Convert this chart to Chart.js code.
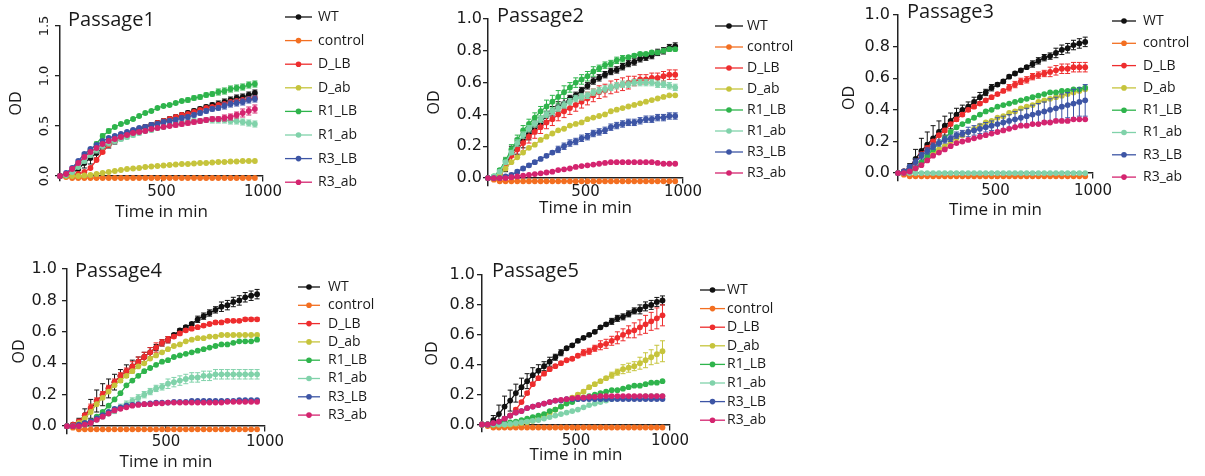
<!DOCTYPE html>
<html lang="en">
<head>
<meta charset="UTF-8">
<title>Growth curves per passage</title>
<script src="https://cdn.jsdelivr.net/npm/chart.js"></script>
<style>
  body { margin: 0; background: #fff; width: 1205px; height: 476px; position: relative; overflow: hidden; }
  canvas { position: absolute; }
</style>
</head>
<body>
<script>
// sampling times (min)
const times = [0, 30, 60, 90, 120, 150, 180, 210, 240, 270, 300,
  330, 360, 390, 420, 450, 480, 510, 540, 570, 600, 630,
  660, 690, 720, 750, 780, 810, 840, 870, 900, 930, 960];

const seriesNames = ['WT', 'control', 'D_LB', 'D_ab', 'R1_LB', 'R1_ab', 'R3_LB', 'R3_ab'];
const seriesColors = ['#111111', '#f36f21', '#ee2d2e', '#c6c43c', '#2fb44c', '#80d2aa', '#3d55a5', '#d4246f'];

const xTicks = [500, 1000];
const yTicksP1 = [0, 0.5, 1.0, 1.5];
const yTicks = [0, 0.2, 0.4, 0.6, 0.8, 1.0];

// medium-only control, same in every passage
const control = [0, -0.01, -0.02, -0.02, -0.02, -0.02, -0.02, -0.02, -0.02, -0.02, -0.02,
  -0.02, -0.02, -0.02, -0.02, -0.02, -0.02, -0.02, -0.02, -0.02, -0.02, -0.02,
  -0.02, -0.02, -0.02, -0.02, -0.02, -0.02, -0.02, -0.02, -0.02, -0.02, -0.02];

// Passage 1
const p1WT = [0, 0, 0.03, 0.07, 0.13, 0.18, 0.23, 0.28, 0.32, 0.35, 0.38,
  0.41, 0.44, 0.46, 0.49, 0.51, 0.53, 0.55, 0.57, 0.59, 0.61, 0.63,
  0.65, 0.67, 0.69, 0.71, 0.72, 0.74, 0.76, 0.78, 0.79, 0.81, 0.83];
const p1DLB = [0, 0, 0.01, 0.02, 0.04, 0.08, 0.16, 0.24, 0.31, 0.35, 0.39,
  0.42, 0.45, 0.47, 0.49, 0.51, 0.53, 0.55, 0.57, 0.59, 0.61, 0.62,
  0.64, 0.66, 0.68, 0.69, 0.71, 0.72, 0.74, 0.75, 0.76, 0.77, 0.78];
const p1Dab = [0, 0, 0, 0, 0.005, 0.01, 0.02, 0.03, 0.04, 0.05, 0.06,
  0.07, 0.075, 0.08, 0.09, 0.095, 0.10, 0.105, 0.11, 0.115, 0.12, 0.12,
  0.125, 0.13, 0.13, 0.135, 0.14, 0.14, 0.145, 0.145, 0.15, 0.15, 0.15];
const p1R1LB = [0, 0.01, 0.05, 0.12, 0.19, 0.26, 0.32, 0.40, 0.45, 0.49, 0.52,
  0.54, 0.57, 0.60, 0.63, 0.65, 0.68, 0.70, 0.71, 0.73, 0.75, 0.76,
  0.78, 0.79, 0.81, 0.82, 0.84, 0.85, 0.87, 0.88, 0.89, 0.91, 0.92];
const p1R1ab = [0, 0.01, 0.04, 0.09, 0.15, 0.21, 0.26, 0.30, 0.33, 0.35, 0.37,
  0.39, 0.41, 0.43, 0.45, 0.46, 0.48, 0.49, 0.51, 0.52, 0.53, 0.54,
  0.55, 0.55, 0.56, 0.56, 0.56, 0.56, 0.55, 0.55, 0.54, 0.53, 0.52];
const p1R3LB = [0, 0.03, 0.08, 0.15, 0.22, 0.27, 0.31, 0.35, 0.38, 0.40, 0.42,
  0.44, 0.46, 0.48, 0.49, 0.51, 0.52, 0.54, 0.55, 0.56, 0.58, 0.59,
  0.61, 0.63, 0.65, 0.67, 0.68, 0.70, 0.72, 0.73, 0.74, 0.76, 0.77];
const p1R3ab = [0, 0.02, 0.07, 0.13, 0.19, 0.24, 0.28, 0.32, 0.35, 0.37, 0.39,
  0.41, 0.43, 0.44, 0.45, 0.47, 0.48, 0.49, 0.50, 0.51, 0.52, 0.53,
  0.54, 0.55, 0.56, 0.57, 0.57, 0.58, 0.59, 0.61, 0.63, 0.65, 0.67];
const p1ErrWT = [0, 0, 0.02, 0.04, 0.05, 0.06, 0.05, 0.05, 0.04, 0.03, 0.02,
  0.02, 0.02, 0.02, 0.02, 0.02, 0.02, 0.02, 0.02, 0.02, 0.02, 0.02,
  0.02, 0.02, 0.02, 0.02, 0.03, 0.03, 0.03, 0.03, 0.03, 0.03, 0.03];
const p1ErrR1LB = [0, 0, 0.01, 0.01, 0.02, 0.02, 0.02, 0.02, 0.02, 0.01, 0.01,
  0.01, 0.01, 0.01, 0.01, 0.01, 0.01, 0.01, 0.01, 0.01, 0.01, 0.02,
  0.02, 0.02, 0.02, 0.02, 0.03, 0.03, 0.03, 0.03, 0.03, 0.03, 0.03];
const p1ErrR1ab = [0, 0, 0.01, 0.01, 0.02, 0.02, 0.03, 0.03, 0.03, 0.02, 0.02,
  0.02, 0.02, 0.02, 0.02, 0.02, 0.02, 0.02, 0.02, 0.02, 0.02, 0.02,
  0.02, 0.02, 0.02, 0.03, 0.03, 0.03, 0.03, 0.03, 0.03, 0.03, 0.03];
const p1ErrR3LB = [0, 0, 0.01, 0.01, 0.01, 0.01, 0.01, 0.01, 0.01, 0.01, 0.01,
  0.01, 0.01, 0.01, 0.02, 0.02, 0.02, 0.02, 0.02, 0.02, 0.02, 0.02,
  0.02, 0.02, 0.02, 0.02, 0.02, 0.03, 0.03, 0.03, 0.03, 0.03, 0.03];
const p1ErrR3ab = [0, 0, 0.01, 0.01, 0.01, 0.01, 0.01, 0.01, 0.01, 0.01, 0.01,
  0.01, 0.01, 0.01, 0.01, 0.01, 0.01, 0.01, 0.01, 0.02, 0.02, 0.02,
  0.02, 0.02, 0.02, 0.02, 0.02, 0.03, 0.03, 0.03, 0.04, 0.04, 0.04];

// Passage 2
const p2WT = [0, 0, 0.02, 0.08, 0.15, 0.20, 0.24, 0.28, 0.32, 0.35, 0.39,
  0.42, 0.45, 0.47, 0.50, 0.52, 0.55, 0.58, 0.61, 0.63, 0.65, 0.67,
  0.68, 0.70, 0.72, 0.73, 0.75, 0.76, 0.77, 0.79, 0.80, 0.82, 0.83];
const p2DLB = [0, 0, 0.03, 0.08, 0.14, 0.18, 0.22, 0.26, 0.29, 0.32, 0.35,
  0.37, 0.40, 0.42, 0.44, 0.46, 0.48, 0.50, 0.52, 0.54, 0.55, 0.57,
  0.58, 0.59, 0.60, 0.61, 0.62, 0.62, 0.63, 0.63, 0.64, 0.65, 0.65];
const p2Dab = [0, 0, 0.02, 0.06, 0.10, 0.13, 0.16, 0.19, 0.21, 0.24, 0.26,
  0.28, 0.30, 0.31, 0.33, 0.34, 0.35, 0.37, 0.38, 0.39, 0.40, 0.42,
  0.43, 0.44, 0.45, 0.46, 0.47, 0.48, 0.49, 0.50, 0.51, 0.52, 0.52];
const p2R1LB = [0, 0.01, 0.05, 0.11, 0.18, 0.24, 0.30, 0.34, 0.38, 0.42, 0.45,
  0.48, 0.51, 0.54, 0.57, 0.60, 0.62, 0.64, 0.67, 0.69, 0.71, 0.72,
  0.74, 0.75, 0.76, 0.77, 0.78, 0.78, 0.79, 0.79, 0.80, 0.81, 0.81];
const p2R1ab = [0, 0.01, 0.04, 0.10, 0.16, 0.22, 0.27, 0.31, 0.34, 0.37, 0.40,
  0.42, 0.44, 0.46, 0.48, 0.50, 0.51, 0.52, 0.54, 0.55, 0.56, 0.57,
  0.58, 0.59, 0.59, 0.60, 0.60, 0.60, 0.60, 0.59, 0.59, 0.58, 0.57];
const p2R3LB = [0, 0, 0, 0.01, 0.02, 0.04, 0.06, 0.08, 0.10, 0.12, 0.14,
  0.16, 0.18, 0.20, 0.22, 0.23, 0.25, 0.26, 0.28, 0.29, 0.30, 0.32,
  0.33, 0.34, 0.35, 0.35, 0.36, 0.37, 0.37, 0.38, 0.38, 0.39, 0.39];
const p2R3ab = [0, 0, 0, 0, 0.005, 0.01, 0.015, 0.02, 0.025, 0.03, 0.035,
  0.04, 0.05, 0.055, 0.06, 0.07, 0.075, 0.08, 0.085, 0.09, 0.095, 0.10,
  0.10, 0.10, 0.10, 0.10, 0.10, 0.10, 0.10, 0.095, 0.09, 0.09, 0.09];
const p2ErrWT = [0, 0, 0.02, 0.04, 0.05, 0.05, 0.05, 0.04, 0.04, 0.03, 0.03,
  0.03, 0.03, 0.03, 0.02, 0.02, 0.02, 0.02, 0.02, 0.02, 0.02, 0.02,
  0.02, 0.02, 0.02, 0.02, 0.02, 0.02, 0.02, 0.02, 0.02, 0.02, 0.02];
const p2ErrDLB = [0, 0, 0.02, 0.03, 0.04, 0.05, 0.05, 0.04, 0.04, 0.04, 0.04,
  0.04, 0.04, 0.04, 0.04, 0.04, 0.04, 0.04, 0.04, 0.04, 0.04, 0.04,
  0.04, 0.04, 0.04, 0.03, 0.03, 0.03, 0.03, 0.03, 0.03, 0.03, 0.03];
const p2ErrR1LB = [0, 0, 0.01, 0.02, 0.03, 0.03, 0.03, 0.03, 0.03, 0.03, 0.04,
  0.04, 0.04, 0.04, 0.03, 0.03, 0.03, 0.03, 0.03, 0.02, 0.02, 0.02,
  0.02, 0.02, 0.01, 0.01, 0.01, 0.01, 0.01, 0.01, 0.01, 0.01, 0.01];
const p2ErrR1ab = [0, 0, 0.01, 0.01, 0.01, 0.02, 0.02, 0.02, 0.02, 0.02, 0.02,
  0.02, 0.02, 0.02, 0.02, 0.02, 0.02, 0.02, 0.02, 0.02, 0.02, 0.02,
  0.02, 0.02, 0.02, 0.02, 0.02, 0.02, 0.02, 0.02, 0.02, 0.02, 0.02];
const p2ErrR3LB = [0, 0, 0, 0, 0.01, 0.01, 0.01, 0.01, 0.01, 0.01, 0.01,
  0.01, 0.02, 0.02, 0.02, 0.02, 0.02, 0.02, 0.02, 0.02, 0.02, 0.02,
  0.02, 0.02, 0.02, 0.02, 0.02, 0.02, 0.02, 0.02, 0.02, 0.02, 0.02];

// Passage 3
const p3WT = [0, 0.01, 0.04, 0.09, 0.14, 0.18, 0.22, 0.26, 0.30, 0.33, 0.37,
  0.40, 0.42, 0.45, 0.48, 0.51, 0.54, 0.56, 0.58, 0.61, 0.63, 0.65,
  0.67, 0.69, 0.71, 0.73, 0.74, 0.76, 0.78, 0.79, 0.81, 0.82, 0.83];
const p3DLB = [0, 0.01, 0.03, 0.07, 0.12, 0.16, 0.20, 0.24, 0.27, 0.31, 0.34,
  0.37, 0.40, 0.42, 0.44, 0.46, 0.48, 0.50, 0.52, 0.54, 0.56, 0.58,
  0.59, 0.61, 0.62, 0.63, 0.64, 0.65, 0.66, 0.66, 0.67, 0.67, 0.67];
const p3Dab = [0, 0, 0.01, 0.03, 0.06, 0.09, 0.12, 0.15, 0.17, 0.20, 0.22,
  0.24, 0.26, 0.28, 0.30, 0.32, 0.33, 0.35, 0.36, 0.38, 0.39, 0.41,
  0.42, 0.43, 0.45, 0.46, 0.47, 0.48, 0.49, 0.50, 0.51, 0.52, 0.53];
const p3R1LB = [0, 0, 0.01, 0.03, 0.07, 0.11, 0.15, 0.19, 0.22, 0.26, 0.29,
  0.31, 0.33, 0.35, 0.37, 0.39, 0.40, 0.42, 0.43, 0.44, 0.45, 0.46,
  0.47, 0.48, 0.49, 0.50, 0.51, 0.51, 0.52, 0.52, 0.53, 0.53, 0.54];
const p3R1ab = [0, 0, 0, 0, 0, 0, 0, 0, 0, 0, 0,
  0, 0, 0, 0, 0, 0, 0, 0, 0, 0, 0,
  0, 0, 0, 0, 0, 0, 0, 0, 0, 0, 0];
const p3R3LB = [0, 0.01, 0.04, 0.07, 0.11, 0.14, 0.17, 0.19, 0.21, 0.22, 0.24,
  0.25, 0.26, 0.27, 0.28, 0.29, 0.30, 0.31, 0.32, 0.33, 0.34, 0.35,
  0.36, 0.37, 0.38, 0.39, 0.40, 0.41, 0.42, 0.43, 0.44, 0.45, 0.46];
const p3R3ab = [0, 0, 0.01, 0.03, 0.05, 0.08, 0.11, 0.13, 0.15, 0.17, 0.19,
  0.20, 0.21, 0.22, 0.23, 0.24, 0.25, 0.26, 0.27, 0.28, 0.29, 0.30,
  0.30, 0.31, 0.31, 0.32, 0.32, 0.33, 0.33, 0.33, 0.34, 0.34, 0.34];
const p3ErrWT = [0, 0, 0.02, 0.06, 0.08, 0.08, 0.08, 0.07, 0.06, 0.05, 0.04,
  0.03, 0.03, 0.03, 0.03, 0.02, 0.02, 0.01, 0.01, 0.01, 0.01, 0.01,
  0.01, 0.02, 0.02, 0.02, 0.02, 0.03, 0.03, 0.03, 0.03, 0.03, 0.03];
const p3ErrDLB = [0, 0, 0.01, 0.01, 0.01, 0.01, 0.01, 0.01, 0.01, 0.01, 0.01,
  0.01, 0.01, 0.01, 0.01, 0.01, 0.01, 0.01, 0.01, 0.02, 0.02, 0.02,
  0.02, 0.02, 0.02, 0.02, 0.03, 0.03, 0.03, 0.03, 0.03, 0.03, 0.03];
const p3ErrR3LB = [0, 0, 0.01, 0.02, 0.02, 0.02, 0.02, 0.02, 0.02, 0.02, 0.02,
  0.02, 0.03, 0.03, 0.03, 0.03, 0.03, 0.04, 0.04, 0.04, 0.05, 0.05,
  0.05, 0.06, 0.06, 0.06, 0.07, 0.07, 0.08, 0.08, 0.09, 0.09, 0.10];

// Passage 4
const p4WT = [0, 0.01, 0.03, 0.07, 0.11, 0.16, 0.20, 0.24, 0.28, 0.32, 0.35,
  0.38, 0.41, 0.44, 0.47, 0.50, 0.53, 0.55, 0.58, 0.61, 0.63, 0.65,
  0.68, 0.70, 0.72, 0.74, 0.76, 0.77, 0.79, 0.80, 0.82, 0.83, 0.84];
const p4DLB = [0, 0.01, 0.03, 0.07, 0.12, 0.16, 0.20, 0.24, 0.28, 0.32, 0.35,
  0.38, 0.41, 0.44, 0.47, 0.50, 0.53, 0.55, 0.57, 0.59, 0.61, 0.62,
  0.63, 0.64, 0.65, 0.66, 0.66, 0.67, 0.67, 0.67, 0.68, 0.68, 0.68];
const p4Dab = [0, 0, 0.02, 0.05, 0.09, 0.14, 0.18, 0.22, 0.26, 0.29, 0.32,
  0.35, 0.38, 0.40, 0.43, 0.45, 0.47, 0.49, 0.51, 0.52, 0.54, 0.55,
  0.56, 0.56, 0.57, 0.57, 0.58, 0.58, 0.58, 0.58, 0.58, 0.58, 0.58];
const p4R1LB = [0, 0, 0, 0.01, 0.03, 0.06, 0.09, 0.13, 0.17, 0.21, 0.26,
  0.29, 0.32, 0.35, 0.37, 0.39, 0.41, 0.42, 0.44, 0.45, 0.46, 0.47,
  0.48, 0.49, 0.50, 0.51, 0.52, 0.52, 0.53, 0.54, 0.54, 0.54, 0.55];
const p4R1ab = [0, 0, 0, 0.01, 0.02, 0.04, 0.06, 0.08, 0.10, 0.12, 0.14,
  0.16, 0.18, 0.20, 0.22, 0.24, 0.25, 0.27, 0.28, 0.29, 0.30, 0.31,
  0.31, 0.32, 0.32, 0.33, 0.33, 0.33, 0.33, 0.33, 0.33, 0.33, 0.33];
const p4R3LB = [0, 0, 0.01, 0.02, 0.03, 0.05, 0.07, 0.09, 0.11, 0.12, 0.13,
  0.135, 0.14, 0.14, 0.145, 0.15, 0.15, 0.15, 0.155, 0.155, 0.155, 0.16,
  0.16, 0.16, 0.16, 0.16, 0.16, 0.16, 0.16, 0.165, 0.165, 0.165, 0.165];
const p4R3ab = [0, 0, 0, 0.01, 0.02, 0.04, 0.06, 0.08, 0.10, 0.11, 0.12,
  0.13, 0.135, 0.14, 0.14, 0.145, 0.145, 0.15, 0.15, 0.15, 0.15, 0.15,
  0.15, 0.15, 0.15, 0.15, 0.15, 0.155, 0.155, 0.155, 0.155, 0.155, 0.155];
const p4ErrWT = [0, 0, 0.02, 0.04, 0.06, 0.07, 0.07, 0.06, 0.05, 0.04, 0.04,
  0.04, 0.03, 0.03, 0.03, 0.02, 0.02, 0.02, 0.01, 0.01, 0.01, 0.01,
  0.02, 0.02, 0.02, 0.02, 0.03, 0.03, 0.03, 0.03, 0.03, 0.03, 0.03];
const p4ErrDLB = [0, 0, 0.01, 0.01, 0.02, 0.02, 0.02, 0.02, 0.02, 0.02, 0.02,
  0.03, 0.03, 0.03, 0.03, 0.03, 0.02, 0.02, 0.01, 0.01, 0.01, 0.01,
  0.01, 0.01, 0.01, 0.01, 0.01, 0.01, 0.01, 0.01, 0.01, 0.01, 0.01];
const p4ErrR1ab = [0, 0, 0, 0, 0.01, 0.01, 0.01, 0.01, 0.02, 0.02, 0.02,
  0.02, 0.02, 0.02, 0.02, 0.02, 0.02, 0.03, 0.03, 0.03, 0.03, 0.03,
  0.03, 0.03, 0.03, 0.03, 0.03, 0.03, 0.03, 0.03, 0.03, 0.03, 0.03];

// Passage 5
const p5WT = [0, 0, 0.03, 0.07, 0.12, 0.16, 0.21, 0.25, 0.29, 0.33, 0.36,
  0.39, 0.42, 0.45, 0.48, 0.51, 0.53, 0.56, 0.58, 0.60, 0.62, 0.65,
  0.67, 0.69, 0.71, 0.72, 0.74, 0.76, 0.77, 0.79, 0.80, 0.82, 0.83];
const p5DLB = [0, 0, 0.01, 0.01, 0.03, 0.06, 0.10, 0.15, 0.21, 0.27, 0.31,
  0.34, 0.37, 0.39, 0.41, 0.43, 0.44, 0.46, 0.48, 0.49, 0.51, 0.53,
  0.54, 0.56, 0.58, 0.60, 0.62, 0.63, 0.65, 0.67, 0.69, 0.71, 0.73];
const p5Dab = [0, 0, 0, 0, 0, 0, 0.005, 0.01, 0.015, 0.025, 0.04,
  0.06, 0.08, 0.10, 0.12, 0.15, 0.18, 0.20, 0.22, 0.25, 0.27, 0.29,
  0.31, 0.33, 0.35, 0.37, 0.38, 0.39, 0.41, 0.43, 0.45, 0.47, 0.49];
const p5R1LB = [0, 0, 0, 0.005, 0.01, 0.015, 0.02, 0.03, 0.04, 0.05, 0.06,
  0.07, 0.09, 0.10, 0.12, 0.14, 0.15, 0.17, 0.18, 0.19, 0.20, 0.21,
  0.22, 0.23, 0.23, 0.24, 0.25, 0.26, 0.26, 0.27, 0.28, 0.28, 0.29];
const p5R1ab = [0, 0, 0, 0, 0, 0.005, 0.01, 0.015, 0.02, 0.025, 0.03,
  0.04, 0.05, 0.06, 0.07, 0.08, 0.09, 0.10, 0.115, 0.13, 0.14, 0.15,
  0.16, 0.17, 0.175, 0.18, 0.18, 0.185, 0.185, 0.19, 0.19, 0.19, 0.19];
const p5R3LB = [0, 0, 0.01, 0.02, 0.04, 0.06, 0.08, 0.09, 0.11, 0.12, 0.13,
  0.14, 0.15, 0.16, 0.16, 0.17, 0.17, 0.17, 0.17, 0.17, 0.17, 0.17,
  0.17, 0.17, 0.17, 0.17, 0.17, 0.17, 0.17, 0.17, 0.17, 0.17, 0.17];
const p5R3ab = [0, 0, 0.01, 0.02, 0.04, 0.06, 0.08, 0.09, 0.11, 0.12, 0.13,
  0.14, 0.15, 0.16, 0.165, 0.17, 0.175, 0.18, 0.18, 0.185, 0.185, 0.19,
  0.19, 0.19, 0.19, 0.19, 0.19, 0.19, 0.19, 0.19, 0.19, 0.19, 0.19];
const p5ErrWT = [0, 0.01, 0.03, 0.06, 0.07, 0.07, 0.06, 0.06, 0.05, 0.05, 0.04,
  0.03, 0.03, 0.02, 0.02, 0.01, 0.01, 0.01, 0.01, 0.01, 0.01, 0.01,
  0.01, 0.02, 0.02, 0.02, 0.02, 0.02, 0.03, 0.03, 0.03, 0.03, 0.03];
const p5ErrDLB = [0, 0, 0, 0, 0.01, 0.01, 0.01, 0.01, 0.01, 0.01, 0.01,
  0.01, 0.01, 0.01, 0.01, 0.01, 0.01, 0.01, 0.02, 0.02, 0.02, 0.03,
  0.03, 0.03, 0.04, 0.04, 0.04, 0.05, 0.05, 0.06, 0.06, 0.07, 0.07];
const p5ErrDab = [0, 0, 0, 0, 0, 0, 0, 0, 0, 0, 0,
  0, 0.01, 0.01, 0.01, 0.01, 0.01, 0.01, 0.01, 0.01, 0.01, 0.01,
  0.01, 0.02, 0.02, 0.03, 0.03, 0.03, 0.04, 0.05, 0.05, 0.06, 0.07];

// where each panel sits on the page
const frames = {
  p1: {left: 3, top: 11, width: 377, height: 217, axisW: 57, padTop: 15, padRight: 117, padBottom: 47,
       yFont: 13, yRot: 90, yPad: 0, xPad: 3.5, xTitlePad: 0.5,
       titleDx: 8, titleDy: -6, legX: 22, legLen: 27, legText: 55, legY: -9, legGap: 23.6},
  p2: {left: 421, top: 4, width: 384, height: 221, axisW: 67, padTop: 15, padRight: 122, padBottom: 39,
       yFont: 16, yRot: 0, yPad: 1, xPad: 1.5, xTitlePad: -1.5,
       titleDx: 9, titleDy: -3, legX: 32, legLen: 28, legText: 64, legY: 7, legGap: 21},
  p3: {left: 836, top: 0, width: 369, height: 225, axisW: 62, padTop: 15, padRight: 112, padBottom: 44,
       yFont: 16, yRot: 0, yPad: 3, xPad: 5.5, xTitlePad: -2.5,
       titleDx: 9, titleDy: -2.5, legX: 19, legLen: 24, legText: 50, legY: 6, legGap: 22.3},
  p4: {left: 6, top: 254, width: 384, height: 222, axisW: 61, padTop: 15, padRight: 125, padBottom: 42,
       yFont: 16, yRot: 0, yPad: 5, xPad: 3.5, xTitlePad: 0.5,
       titleDx: 8, titleDy: 2, legX: 33, legLen: 22, legText: 63, legY: 18, legGap: 18.3},
  p5: {left: 419, top: 260, width: 371, height: 216, axisW: 63, padTop: 15, padRight: 120, padBottom: 44,
       yFont: 16, yRot: 0, yPad: 2, xPad: 4.5, xTitlePad: -6.5,
       titleDx: 10, titleDy: -4, legX: 30, legLen: 25, legText: 57, legY: 15, legGap: 18.6}
};

const passages = [
  {id: 'p1', title: 'Passage1', yMax: 1.5, yTicks: yTicksP1,
   values: [p1WT, control, p1DLB, p1Dab, p1R1LB, p1R1ab, p1R3LB, p1R3ab],
   errs: [p1ErrWT, null, null, null, p1ErrR1LB, p1ErrR1ab, p1ErrR3LB, p1ErrR3ab]},
  {id: 'p2', title: 'Passage2', yMax: 1.0, yTicks: yTicks,
   values: [p2WT, control, p2DLB, p2Dab, p2R1LB, p2R1ab, p2R3LB, p2R3ab],
   errs: [p2ErrWT, null, p2ErrDLB, null, p2ErrR1LB, p2ErrR1ab, p2ErrR3LB, null]},
  {id: 'p3', title: 'Passage3', yMax: 1.0, yTicks: yTicks,
   values: [p3WT, control, p3DLB, p3Dab, p3R1LB, p3R1ab, p3R3LB, p3R3ab],
   errs: [p3ErrWT, null, p3ErrDLB, null, null, null, p3ErrR3LB, null]},
  {id: 'p4', title: 'Passage4', yMax: 1.0, yTicks: yTicks,
   values: [p4WT, control, p4DLB, p4Dab, p4R1LB, p4R1ab, p4R3LB, p4R3ab],
   errs: [p4ErrWT, null, p4ErrDLB, null, null, p4ErrR1ab, null, null]},
  {id: 'p5', title: 'Passage5', yMax: 1.0, yTicks: yTicks,
   values: [p5WT, control, p5DLB, p5Dab, p5R1LB, p5R1ab, p5R3LB, p5R3ab],
   errs: [p5ErrWT, null, p5ErrDLB, p5ErrDab, null, null, null, null]}
];

const axisColor = '#222';
const textColor = '#1a1a1a';

// vertical error bars with small caps, drawn right after their own series
const errorBars = {
  id: 'errorBars',
  afterDatasetDraw(chart, args) {
    const ds = chart.data.datasets[args.index];
    if (!ds.errs) return;
    const {ctx, scales: {x, y}} = chart;
    ctx.save();
    ctx.strokeStyle = ds.borderColor;
    ctx.lineWidth = 1;
    ds.data.forEach((p, j) => {
      const e = ds.errs[j];
      if (!e) return;
      const px = x.getPixelForValue(p.x);
      const hi = y.getPixelForValue(p.y + e);
      const lo = y.getPixelForValue(p.y - e);
      ctx.beginPath();
      ctx.moveTo(px, hi); ctx.lineTo(px, lo);
      ctx.moveTo(px - 2.5, hi); ctx.lineTo(px + 2.5, hi);
      ctx.moveTo(px - 2.5, lo); ctx.lineTo(px + 2.5, lo);
      ctx.stroke();
    });
    ctx.restore();
  }
};

// panel title and the line+dot legend on the right
const decor = {
  id: 'decor',
  afterDraw(chart, args, o) {
    const {ctx, chartArea: a} = chart;
    ctx.save();
    ctx.textBaseline = 'middle';
    ctx.textAlign = 'left';
    ctx.fillStyle = textColor;
    ctx.font = '20px "Open Sans"';
    ctx.fillText(o.title, a.left + o.titleDx, a.top + o.titleDy);
    ctx.font = '14px "Open Sans"';
    chart.data.datasets.forEach((ds, i) => {
      const yy = a.top + o.legY + i * o.legGap;
      const x0 = a.right + o.legX;
      ctx.strokeStyle = ds.borderColor;
      ctx.lineWidth = 1.3;
      ctx.beginPath(); ctx.moveTo(x0, yy); ctx.lineTo(x0 + o.legLen, yy); ctx.stroke();
      ctx.fillStyle = ds.borderColor;
      ctx.beginPath(); ctx.arc(x0 + o.legLen / 2, yy, 2.8, 0, Math.PI * 2); ctx.fill();
      ctx.fillStyle = textColor;
      ctx.fillText(ds.label, a.right + o.legText, yy);
    });
    ctx.restore();
  }
};

Chart.defaults.font.family = '"DejaVu Sans"';

passages.forEach(p => {
  const f = frames[p.id];
  const cv = document.createElement('canvas');
  cv.width = f.width;
  cv.height = f.height;
  cv.style.left = f.left + 'px';
  cv.style.top = f.top + 'px';
  document.body.appendChild(cv);

  const datasets = seriesNames.map((name, i) => ({
    label: name,
    data: times.map((t, j) => ({x: t, y: p.values[i][j]})),
    errs: p.errs[i],
    borderColor: seriesColors[i],
    backgroundColor: seriesColors[i],
    borderWidth: 1.3,
    pointRadius: 2.9,
    pointBorderWidth: 0,
    pointHoverRadius: 2.9,
    tension: 0,
    clip: 8,
    order: seriesNames.length - i
  }));

  const tickMarks = {display: true, drawOnChartArea: false, drawTicks: true, tickLength: 5, color: axisColor, lineWidth: 1.3};
  const border = {display: true, color: axisColor, width: 1.5};

  new Chart(cv, {
    type: 'line',
    data: {datasets},
    options: {
      responsive: false,
      animation: false,
      devicePixelRatio: 1,
      layout: {padding: {left: 0, top: f.padTop, right: f.padRight, bottom: f.padBottom}},
      plugins: {
        legend: {display: false},
        tooltip: {enabled: false},
        decor: {title: p.title, titleDx: f.titleDx, titleDy: f.titleDy, legX: f.legX, legLen: f.legLen,
                legText: f.legText, legY: f.legY, legGap: f.legGap}
      },
      scales: {
        x: {
          type: 'linear',
          min: 0,
          max: 1000,
          position: {y: 0},
          afterBuildTicks: s => { s.ticks = xTicks.map(v => ({value: v})); },
          grid: tickMarks,
          border: border,
          ticks: {color: textColor, font: {size: 15, lineHeight: 1}, padding: f.xPad,
                  maxRotation: 0, autoSkip: false, callback: v => String(v)},
          title: {display: true, text: 'Time in min', color: textColor,
                  font: {family: '"Open Sans"', size: 17, lineHeight: 1},
                  padding: {top: f.xTitlePad, bottom: 0}}
        },
        y: {
          type: 'linear',
          min: -0.05,
          max: p.yMax,
          afterBuildTicks: s => { s.ticks = p.yTicks.map(v => ({value: v})); },
          afterFit: s => { s.width = f.axisW; },
          grid: tickMarks,
          border: border,
          ticks: {color: textColor, font: {size: f.yFont}, padding: f.yPad,
                  minRotation: f.yRot, maxRotation: f.yRot, crossAlign: f.yRot ? 'center' : 'near',
                  autoSkip: false, callback: v => v.toFixed(1)},
          title: {display: true, text: 'OD', color: textColor,
                  font: {family: '"Open Sans"', size: 16}, padding: {top: 4, bottom: 4}}
        }
      }
    },
    plugins: [errorBars, decor]
  });
});
</script>
</body>
</html>
